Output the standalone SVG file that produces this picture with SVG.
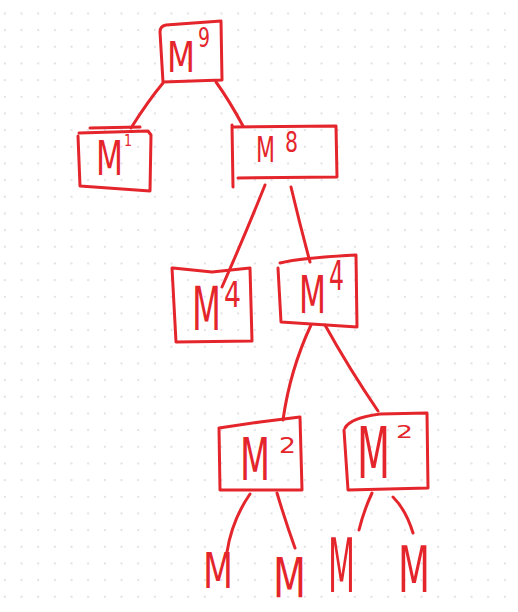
<svg xmlns="http://www.w3.org/2000/svg" width="518" height="612" viewBox="0 0 518 612">
<style>
.s{fill:none;stroke:#e4252b;stroke-width:3;stroke-linecap:round;stroke-linejoin:round}
.t{fill:#e4252b;font-family:"DejaVu Sans",sans-serif}
</style>
<defs>
<pattern id="dots" x="3.9" y="12.5" width="16.667" height="16.667" patternUnits="userSpaceOnUse">
<rect x="0" y="0" width="1.8" height="1.8" fill="#dcdce4"/>
</pattern>
</defs>
<rect width="518" height="612" fill="#ffffff"/>
<rect width="518" height="612" fill="url(#dots)"/>
<g id="connectors">
<path class="s" d="M163,83 Q148,101 131,128"/>
<path class="s" d="M216,82 Q229,100 243,126"/>
<path class="s" d="M265,185 Q245,235 222,287"/>
<path class="s" d="M291,187 Q300,225 310,262"/>
<path class="s" d="M311,325 Q290,370 283,420"/>
<path class="s" d="M325,325 Q350,370 378,411"/>
<path class="s" d="M250,494 Q232,520 227,552"/>
<path class="s" d="M277,493 Q285,520 295,548"/>
<path class="s" d="M372,493 Q364,510 359,530"/>
<path class="s" d="M393,497 Q406,510 413,533"/>
</g>
<g id="n9">
<path class="s" d="M166,25 L221,21 L222,80 L163,82 L160,32 Q160,26 166,25"/>
<text class="t"><tspan x="167" y="72" font-size="42" textLength="28" lengthAdjust="spacingAndGlyphs">M</tspan><tspan x="198" y="47" font-size="26" textLength="12" lengthAdjust="spacingAndGlyphs">9</tspan></text>
</g>
<g id="n1">
<path class="s" d="M79,133 L148,131 L151,135 L150,191 L80,186 L78,136"/>
<path class="s" d="M90,128 L140,127"/>
<text class="t"><tspan x="96" y="175" font-size="48" textLength="27" lengthAdjust="spacingAndGlyphs">M</tspan><tspan x="124" y="146" font-size="16" textLength="8" lengthAdjust="spacingAndGlyphs">1</tspan></text>
</g>
<g id="n8">
<path class="s" d="M233,127 L336,126 L337,177 L238,178"/>
<path class="s" d="M232,125 L233,187"/>
<text class="t"><tspan x="256" y="162" font-size="35" textLength="19" lengthAdjust="spacingAndGlyphs">M</tspan><tspan x="285" y="152" font-size="28" textLength="13" lengthAdjust="spacingAndGlyphs">8</tspan></text>
</g>
<g id="n4a">
<path class="s" d="M173,268 L212,272 L250,268 L252,341 L176,342 L172,268"/>
<text class="t"><tspan x="192" y="330" font-size="60" textLength="29" lengthAdjust="spacingAndGlyphs">M</tspan><tspan x="224" y="307" font-size="36" textLength="17" lengthAdjust="spacingAndGlyphs">4</tspan></text>
</g>
<g id="n4b">
<path class="s" d="M280,263 Q300,258 356,255 L357,327 L281,322 L278,268"/>
<text class="t"><tspan x="299" y="313" font-size="52" textLength="27" lengthAdjust="spacingAndGlyphs">M</tspan><tspan x="329" y="290" font-size="40" textLength="15" lengthAdjust="spacingAndGlyphs">4</tspan></text>
</g>
<g id="n2a">
<path class="s" d="M219,428 L260,422 L300,417 L302,490 L220,490 L219,428"/>
<text class="t"><tspan x="240" y="480" font-size="58" textLength="30" lengthAdjust="spacingAndGlyphs">M</tspan><tspan x="279" y="453" font-size="22" textLength="17" lengthAdjust="spacingAndGlyphs">2</tspan></text>
</g>
<g id="n2b">
<path class="s" d="M345,428 Q350,418 380,414 L427,413 L428,488 L348,490 L344,430"/>
<text class="t"><tspan x="357" y="478" font-size="72" textLength="33" lengthAdjust="spacingAndGlyphs">M</tspan><tspan x="396" y="438" font-size="18" textLength="17" lengthAdjust="spacingAndGlyphs">2</tspan></text>
</g>
<g id="m1"><text class="t" x="203" y="588" font-size="50" textLength="30" lengthAdjust="spacingAndGlyphs">M</text></g>
<g id="m2"><text class="t" x="273" y="597" font-size="55" textLength="33" lengthAdjust="spacingAndGlyphs">M</text></g>
<g id="m3"><text class="t" x="328" y="592" font-size="74" textLength="27" lengthAdjust="spacingAndGlyphs">M</text></g>
<g id="m4"><text class="t" x="398" y="592" font-size="64" textLength="32" lengthAdjust="spacingAndGlyphs">M</text></g>
</svg>
